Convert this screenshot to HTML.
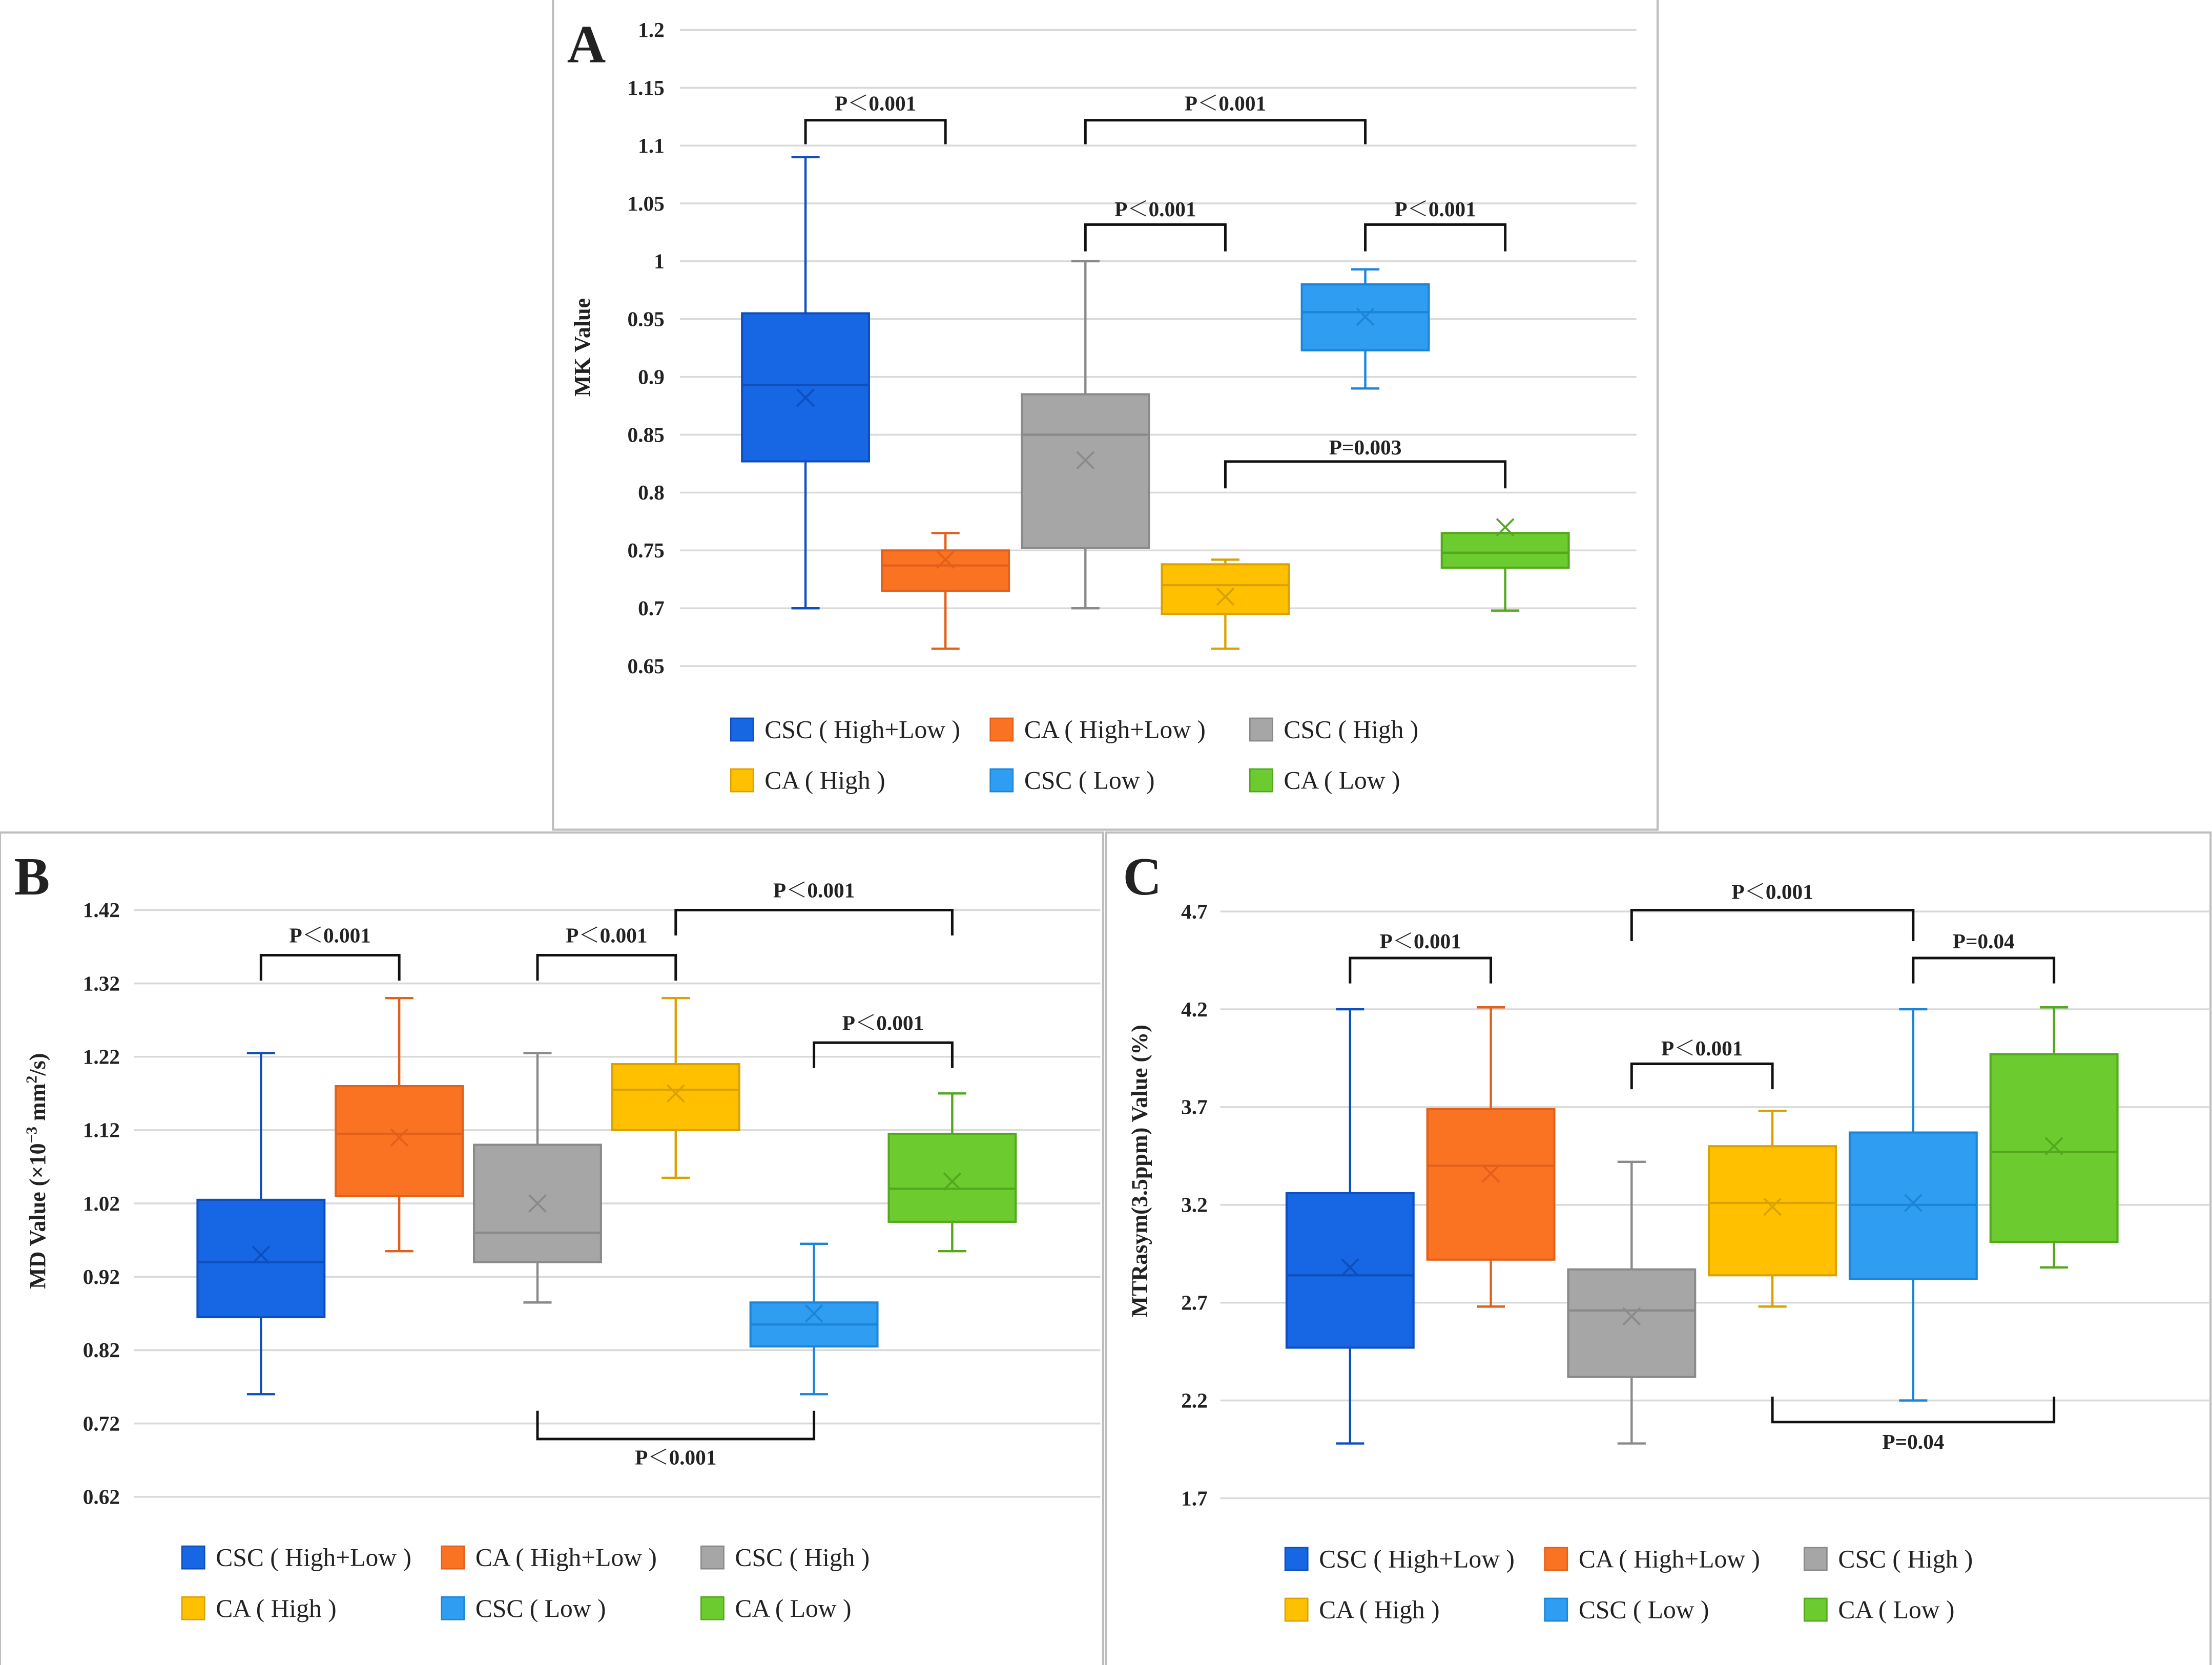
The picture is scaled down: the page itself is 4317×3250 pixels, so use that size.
<!DOCTYPE html>
<html><head><meta charset="utf-8">
<style>
html,body{margin:0;padding:0;background:#fff;}
svg{display:block;}
text{font-family:"Liberation Serif","Noto Serif CJK SC",serif;font-weight:bold;fill:#222;}
text.leg{font-weight:normal;}
</style></head>
<body>
<svg id="fig" width="4317" height="3250" viewBox="0 0 1568 1180" xmlns="http://www.w3.org/2000/svg">
<rect x="0" y="0" width="1568" height="1180" fill="#fff"/>
</svg>
<script>
const groupNames = ["CSC ( High+Low )","CA ( High+Low )","CSC ( High )","CA ( High )","CSC ( Low )","CA ( Low )"];
const fills = ["#1766e3","#fa7323","#a6a6a6","#ffc000","#2f9df1","#6ccb2e"];
const strokes = ["#0e4fbf","#e2601a","#8a8a8a","#d9a200","#1d85d8","#53a81e"];
// Panel A: MK value
const aMin = [0.70,0.665,0.70,0.665,0.89,0.698];
const aQ1 = [0.827,0.715,0.752,0.695,0.923,0.735];
const aMed = [0.893,0.737,0.85,0.72,0.956,0.748];
const aQ3 = [0.955,0.75,0.885,0.738,0.98,0.765];
const aMax = [1.09,0.765,1.0,0.742,0.993,0.765];
const aMean = [0.882,0.742,0.828,0.71,0.952,0.77];
const aTicks = ["0.65","0.7","0.75","0.8","0.85","0.9","0.95","1","1.05","1.1","1.15","1.2"];
// Panel B: MD value
const bMin = [0.76,0.955,0.885,1.055,0.76,0.955];
const bQ1 = [0.865,1.03,0.94,1.12,0.825,0.995];
const bMed = [0.94,1.115,0.98,1.175,0.855,1.04];
const bQ3 = [1.025,1.18,1.10,1.21,0.885,1.115];
const bMax = [1.225,1.30,1.225,1.30,0.965,1.17];
const bMean = [0.95,1.11,1.02,1.17,0.87,1.05];
const bTicks = ["0.62","0.72","0.82","0.92","1.02","1.12","1.22","1.32","1.42"];
// Panel C: MTRasym
const cMin = [1.98,2.68,1.98,2.68,2.2,2.88];
const cQ1 = [2.47,2.92,2.32,2.84,2.82,3.01];
const cMed = [2.84,3.40,2.66,3.21,3.20,3.47];
const cQ3 = [3.26,3.69,2.87,3.50,3.57,3.97];
const cMax = [4.2,4.21,3.42,3.68,4.2,4.21];
const cMean = [2.88,3.36,2.63,3.19,3.21,3.50];
const cTicks = ["1.7","2.2","2.7","3.2","3.7","4.2","4.7"];

const NS="http://www.w3.org/2000/svg";
const svg=document.getElementById('fig');
function el(tag,attrs,parent){const e=document.createElementNS(NS,tag);for(const k in attrs)e.setAttribute(k,attrs[k]);(parent||svg).appendChild(e);return e;}
function txt(s,attrs,parent){const t=el('text',attrs,parent);t.textContent=s;return t;}

function panel(cfg){
  const g=el('g',{});
  
  
  const fr=el('rect',{x:cfg.box[0],y:cfg.box[1],width:cfg.box[2],height:cfg.box[3],fill:'#fff',stroke:'#bdbdbd','stroke-width':1.5},g);
  
  
  const tv=cfg.ticks.map(Number);
  const lo=tv[0],hi=tv[tv.length-1];
  const y=v=>cfg.yBot-(v-lo)/(hi-lo)*(cfg.yBot-cfg.yTop);
  const x=i=>cfg.x0+i*cfg.dx;
  cfg.ticks.forEach((t,i)=>{
    const yy=y(tv[i]);
    const l=el('line',{x1:cfg.gx0,x2:cfg.gx1,y1:yy,y2:yy,stroke:'#d9d9d9','stroke-width':1.3},g);
    
    
    const tl=txt(t,{x:cfg.labX,y:yy+5,'text-anchor':'end','font-size':15},g);
    
    
  });
  for(let i=0;i<6;i++){
    const bg=el('g',{},g);
    
    
    const cx=x(i),w=cfg.bw,c=strokes[i];
    el('line',{x1:cx,x2:cx,y1:y(cfg.max[i]),y2:y(cfg.q3[i]),stroke:c,'stroke-width':1.6},bg);
    el('line',{x1:cx,x2:cx,y1:y(cfg.q1[i]),y2:y(cfg.min[i]),stroke:c,'stroke-width':1.6},bg);
    el('line',{x1:cx-10,x2:cx+10,y1:y(cfg.max[i]),y2:y(cfg.max[i]),stroke:c,'stroke-width':1.6},bg);
    el('line',{x1:cx-10,x2:cx+10,y1:y(cfg.min[i]),y2:y(cfg.min[i]),stroke:c,'stroke-width':1.6},bg);
    el('rect',{x:cx-w/2,y:y(cfg.q3[i]),width:w,height:y(cfg.q1[i])-y(cfg.q3[i]),fill:fills[i],stroke:c,'stroke-width':1.5},bg);
    el('line',{x1:cx-w/2,x2:cx+w/2,y1:y(cfg.med[i]),y2:y(cfg.med[i]),stroke:c,'stroke-width':1.6},bg);
    const my=y(cfg.mean[i]);
    el('path',{d:`M${cx-6} ${my-6}L${cx+6} ${my+6}M${cx+6} ${my-6}L${cx-6} ${my+6}`,stroke:c,'stroke-width':1.4},bg);
  }
  cfg.brackets.forEach(b=>{
    const bg=el('g',{},g);
    
    
    const x1=x(b[0]),x2=x(b[1]);
    el('path',{d:`M${x1} ${b[3]}L${x1} ${b[2]}L${x2} ${b[2]}L${x2} ${b[3]}`,fill:'none',stroke:'#111','stroke-width':1.8},bg);
    txt(b[4],{x:(x1+x2)/2,y:b[5],'text-anchor':'middle','font-size':15},bg);
  });
  const yt=txt(cfg.ytitle,{x:cfg.ytX,y:cfg.ytY,'text-anchor':'middle','font-size':16,transform:`rotate(-90 ${cfg.ytX} ${cfg.ytY})`},g);
  
  
  if(cfg.ytitleHtml){yt.textContent='';cfg.ytitleHtml(yt);}
  const lt=txt(cfg.letter,{x:cfg.letterXY[0],y:cfg.letterXY[1],'font-size':38,fill:'#000'},g);
  
  
  for(let i=0;i<6;i++){
    const lg=el('g',{},g);
    
    
    const lx=cfg.legX+(i%3)*184,ly=cfg.legY+Math.floor(i/3)*36;
    el('rect',{x:lx-8,y:ly-8,width:16,height:16,fill:fills[i],stroke:strokes[i]},lg);
    txt(groupNames[i],{x:lx+16,y:ly+6,'font-size':18,'class':'leg'},lg);
  }
}

panel({name:'panel-a-mk',box:[392,-1,783,589],ticks:aTicks,yTop:21,yBot:472,gx0:482,gx1:1160,labX:471,
  x0:571,dx:99.2,bw:90,min:aMin,q1:aQ1,med:aMed,q3:aQ3,max:aMax,mean:aMean,
  brackets:[[0,1,85,102,'P＜0.001',78],[2,4,85,102,'P＜0.001',78],[2,3,159,178,'P＜0.001',153],[4,5,159,178,'P＜0.001',153],[3,5,327,346,'P=0.003',322]],
  ytitle:'MK Value',ytX:418,ytY:246,letter:'A',letterXY:[402,44],legX:526,legY:517});
panel({name:'panel-b-md',box:[0,590,782,592],ticks:bTicks,yTop:645,yBot:1061,gx0:95,gx1:780,labX:85,
  x0:185,dx:98,bw:90,min:bMin,q1:bQ1,med:bMed,q3:bQ3,max:bMax,mean:bMean,
  brackets:[[0,1,677,695,'P＜0.001',668],[2,3,677,695,'P＜0.001',668],[3,5,645,663,'P＜0.001',636],[4,5,739,757,'P＜0.001',730],[2,4,1020,1000,'P＜0.001',1038]],
  ytitle:'',ytitleHtml:t=>{t.innerHTML='MD Value (×10<tspan dy="-6" font-size="11">−3</tspan><tspan dy="6"> mm</tspan><tspan dy="-6" font-size="11">2</tspan><tspan dy="6">/s)</tspan>';},
  ytX:32,ytY:830,letter:'B',letterXY:[10,634],legX:137,legY:1104});
panel({name:'panel-c-mtr',box:[784,590,783,592],ticks:cTicks,yTop:646,yBot:1062,gx0:865,gx1:1566,labX:856,
  x0:957,dx:99.8,bw:90,min:cMin,q1:cQ1,med:cMed,q3:cQ3,max:cMax,mean:cMean,
  brackets:[[0,1,679,697,'P＜0.001',672],[2,4,645,667,'P＜0.001',637],[4,5,679,697,'P=0.04',672],[2,3,754,772,'P＜0.001',748],[3,5,1008,990,'P=0.04',1027]],
  ytitle:'MTRasym(3.5ppm) Value (%)',ytX:813,ytY:830,letter:'C',letterXY:[796,634],legX:919,legY:1105});
</script>
</body></html>
